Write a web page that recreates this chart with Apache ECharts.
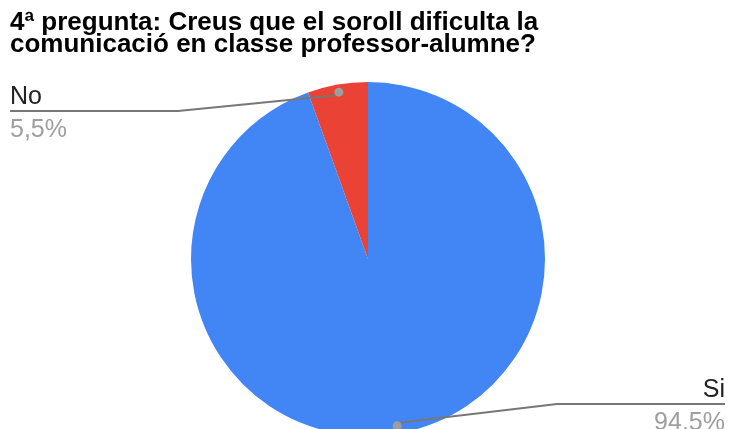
<!DOCTYPE html>
<html>
<head>
<meta charset="utf-8">
<script src="https://cdn.jsdelivr.net/npm/echarts@6/dist/echarts.min.js"></script>
<style>
  html, body { margin: 0; padding: 0; background: #fff; }
  #main { width: 729px; height: 429px; }
</style>
</head>
<body>
<div id="main"></div>
<script>
// dades
var categories = ["Si", "No"];
var values = [94.5, 5.5];
var pctLabels = ["94.5%", "5,5%"];
var colors = ["#4285F4", "#EA4335"];

var CX = 368, CY = 259, R = 177;

var chart = echarts.init(document.getElementById("main"));

var option = {
  animation: false,
  title: {
    text: "4ª pregunta: Creus que el soroll dificulta la\ncomunicació en classe professor-alumne?",
    left: 10,
    top: 12,
    padding: 0,
    textStyle: {
      fontFamily: "Liberation Sans, Arial, sans-serif",
      fontSize: 26,
      fontWeight: "bold",
      color: "#000",
      lineHeight: 22
    }
  },
  series: [
    {
      // el pastís
      type: "pie",
      center: [CX, CY],
      radius: R,
      startAngle: 90,
      clockwise: true,
      silent: true,
      z: 2,
      data: categories.map(function (c, i) {
        return { name: c, value: values[i], itemStyle: { color: colors[i] } };
      }),
      label: { show: false },
      labelLine: { show: false }
    },
    {
      // etiquetes i línies per sobre del pastís
      type: "pie",
      center: [CX, CY],
      radius: R,
      startAngle: 90,
      clockwise: true,
      silent: true,
      z: 3,
      data: categories.map(function (c, i) {
        return { name: c, value: values[i] };
      }),
      itemStyle: { color: "rgba(0,0,0,0)" },
      label: {
        show: true,
        position: "outside",
        formatter: function (p) {
          return "{n|" + p.name + "}\n{p|" + pctLabels[p.dataIndex] + "}";
        },
        rich: {
          n: { fontFamily: "Liberation Sans, Arial, sans-serif", fontSize: 25, color: "#222", lineHeight: 32 },
          p: { fontFamily: "Liberation Sans, Arial, sans-serif", fontSize: 25, color: "#9e9e9e", lineHeight: 28, padding: [6, 0, 0, 0] }
        }
      },
      labelLine: {
        show: true,
        lineStyle: { color: "#777", width: 2 }
      },
      labelLayout: function (params) {
        var p0 = params.labelLinePoints ? params.labelLinePoints[0] : [CX, CY];
        var dot = [CX + (p0[0] - CX) * 0.94, CY + (p0[1] - CY) * 0.94];
        var left = p0[0] < CX;
        var y = left ? 111 : 404;
        var x = left ? 10 : 725;
        var bend = left ? 178 : 557;
        return {
          x: x,
          y: y,
          align: left ? "left" : "right",
          verticalAlign: "middle",
          labelLinePoints: [dot, [bend, y], [x, y]]
        };
      }
    },
    {
      // punts al final de les línies
      type: "pie",
      center: [CX, CY],
      radius: [R * 0.88, R],
      startAngle: 90,
      clockwise: true,
      silent: true,
      z: 4,
      data: categories.map(function (c, i) {
        return { name: c, value: values[i] };
      }),
      itemStyle: { color: "rgba(0,0,0,0)" },
      label: {
        show: true,
        position: "inside",
        formatter: "{d|}",
        rich: {
          d: { width: 9, height: 9, borderRadius: 4.5, backgroundColor: "#9e9e9e" }
        }
      },
      labelLine: { show: false }
    }
  ]
};

chart.setOption(option);
</script>
</body>
</html>
